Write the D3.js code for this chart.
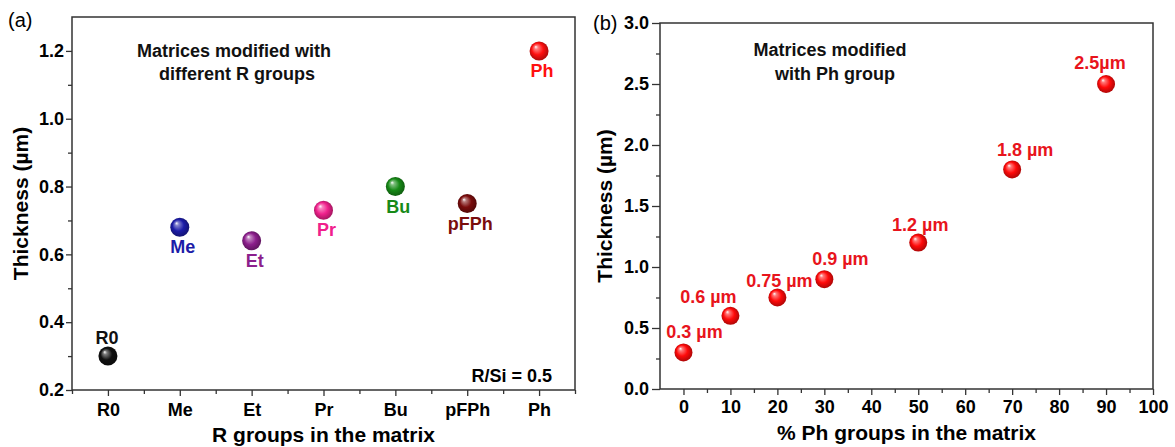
<!DOCTYPE html>
<html>
<head>
<meta charset="utf-8">
<script src="https://cdn.jsdelivr.net/npm/d3@7"></script>
<style>
  body { margin: 0; background: #fff; }
  svg text { font-family: "Liberation Sans", Arial, sans-serif; }
</style>
</head>
<body>
<svg id="chart" width="1175" height="447"></svg>
<script>
// panel (a): thickness by R group
const groups = ['R0', 'Me', 'Et', 'Pr', 'Bu', 'pFPh', 'Ph'];
const groupThickness = [0.30, 0.68, 0.64, 0.73, 0.80, 0.75, 1.20];
const groupColors = ['#111111', '#1c1ca8', '#8c1f8c', '#f0208c', '#178a17', '#7a0c0c', '#ff1010'];
const groupLabelAbove = [true, false, false, false, false, false, false];

// panel (b): thickness vs % Ph
const phPercent = [0, 10, 20, 30, 50, 70, 90];
const phThickness = [0.3, 0.6, 0.75, 0.9, 1.2, 1.8, 2.5];
const phLabels = ['0.3 \u00b5m', '0.6 \u00b5m', '0.75 \u00b5m', '0.9 \u00b5m', '1.2 \u00b5m', '1.8 \u00b5m', '2.5\u00b5m'];

const yTicksA = [0.2, 0.4, 0.6, 0.8, 1.0, 1.2];
const yTicksB = [0, 0.5, 1.0, 1.5, 2.0, 2.5, 3.0];
const xTicksB = [0, 10, 20, 30, 40, 50, 60, 70, 80, 90, 100];

const svg = d3.select('#chart');
const axisColor = '#333';
const labelRed = '#e8141c';

// sphere gradients
const defs = svg.append('defs');
function sphereGrad(id, color) {
  const c = d3.color(color);
  const g = defs.append('radialGradient').attr('id', id)
    .attr('cx', '50%').attr('cy', '50%').attr('r', '55%')
    .attr('fx', '32%').attr('fy', '28%');
  g.append('stop').attr('offset', '0%').attr('stop-color', '#ffffff');
  g.append('stop').attr('offset', '18%').attr('stop-color', d3.interpolateRgb(color, '#fff')(0.45));
  g.append('stop').attr('offset', '55%').attr('stop-color', c.formatHex());
  g.append('stop').attr('offset', '100%').attr('stop-color', c.darker(1.3).formatHex());
  return `url(#${id})`;
}
const groupFills = groupColors.map((c, i) => sphereGrad('g' + i, c));
const redFill = sphereGrad('red', '#ff0a0a');

function frame(g, x0, y0, x1, y1) {
  g.append('rect').attr('x', x0).attr('y', y0)
    .attr('width', x1 - x0).attr('height', y1 - y0)
    .attr('fill', 'none').attr('stroke', axisColor).attr('stroke-width', 1.5);
}

function styleAxis(sel, size) {
  sel.select('.domain').remove();
  sel.selectAll('line').attr('stroke', axisColor).attr('stroke-width', 1.3);
  sel.selectAll('text').attr('font-size', size).attr('font-weight', 'bold')
    .attr('fill', '#000').attr('font-family', '"Liberation Sans", Arial, sans-serif');
}

// ---------- panel (a) ----------
const A = { l: 72, r: 575, t: 17, b: 390 };
const xA = d3.scaleLinear().domain([0.5, 7.5]).range([A.l, A.r]);
const yA = d3.scaleLinear().domain([0.2, 1.3]).range([A.b, A.t]);
const gA = svg.append('g');

gA.append('g').attr('transform', `translate(0,${A.b})`)
  .call(d3.axisBottom(xA).tickValues(d3.range(0.5, 7.6, 1)).tickSize(4).tickFormat(''))
  .call(s => styleAxis(s, 18));
gA.append('g').attr('transform', `translate(0,${A.b})`)
  .call(d3.axisBottom(xA).tickValues(d3.range(1, 8)).tickSize(6).tickPadding(7)
    .tickFormat(d => groups[d - 1]))
  .call(s => styleAxis(s, 18));
gA.append('g').attr('transform', `translate(${A.l},0)`)
  .call(d3.axisLeft(yA).tickValues(d3.range(0.3, 1.25, 0.2)).tickSize(4).tickFormat(''))
  .call(s => styleAxis(s, 18));
gA.append('g').attr('transform', `translate(${A.l},0)`)
  .call(d3.axisLeft(yA).tickValues(yTicksA).tickSize(6).tickPadding(2).tickFormat(d3.format('.1f')))
  .call(s => styleAxis(s, 18));
frame(gA, A.l, A.t, A.r, A.b);

gA.selectAll('circle.pt').data(groups).enter().append('circle')
  .attr('class', 'pt')
  .attr('cx', (d, i) => xA(i + 1))
  .attr('cy', (d, i) => yA(groupThickness[i]))
  .attr('r', 9.5)
  .attr('fill', (d, i) => groupFills[i]);

gA.selectAll('text.lab').data(groups).enter().append('text')
  .attr('class', 'lab')
  .attr('x', (d, i) => xA(i + 1) + (groupLabelAbove[i] ? -1 : 3))
  .attr('y', (d, i) => yA(groupThickness[i]) + (groupLabelAbove[i] ? -12 : 26))
  .attr('text-anchor', 'middle')
  .attr('font-size', 18).attr('font-weight', 'bold')
  .attr('fill', (d, i) => groupColors[i])
  .text(d => d);

const noteA = gA.append('text').attr('text-anchor', 'middle')
  .attr('font-size', 18).attr('font-weight', 'bold').attr('fill', '#111');
noteA.append('tspan').attr('x', 234).attr('y', 57).text('Matrices modified with');
noteA.append('tspan').attr('x', 237).attr('y', 80).text('different R groups');

gA.append('text').attr('x', 552).attr('y', 382).attr('text-anchor', 'end')
  .attr('font-size', 18).attr('font-weight', 'bold').text('R/Si = 0.5');

gA.append('text').attr('x', (A.l + A.r) / 2).attr('y', 442).attr('text-anchor', 'middle')
  .attr('font-size', 21).attr('font-weight', 'bold').text('R groups in the matrix');
gA.append('text').attr('transform', `translate(28,${(A.t + A.b) / 2}) rotate(-90)`)
  .attr('text-anchor', 'middle')
  .attr('font-size', 21).attr('font-weight', 'bold').text('Thickness (\u00b5m)');
gA.append('text').attr('x', 8).attr('y', 27).attr('font-size', 20).text('(a)');

// ---------- panel (b) ----------
const B = { l: 660, r: 1153, t: 23, b: 389 };
const xB = d3.scaleLinear().domain([-5, 100]).range([B.l, B.r]);
const yB = d3.scaleLinear().domain([0, 3]).range([B.b, B.t]);
const gB = svg.append('g');

gB.append('g').attr('transform', `translate(0,${B.b})`)
  .call(d3.axisBottom(xB).tickValues(d3.range(5, 100, 10)).tickSize(4).tickFormat(''))
  .call(s => styleAxis(s, 18));
gB.append('g').attr('transform', `translate(0,${B.b})`)
  .call(d3.axisBottom(xB).tickValues(xTicksB).tickSize(6).tickPadding(5))
  .call(s => styleAxis(s, 18));
gB.append('g').attr('transform', `translate(${B.l},0)`)
  .call(d3.axisLeft(yB).tickValues(d3.range(0.25, 3, 0.5)).tickSize(4).tickFormat(''))
  .call(s => styleAxis(s, 18));
gB.append('g').attr('transform', `translate(${B.l},0)`)
  .call(d3.axisLeft(yB).tickValues(yTicksB).tickSize(8).tickPadding(3).tickFormat(d3.format('.1f')))
  .call(s => styleAxis(s, 18));
frame(gB, B.l, B.t, B.r, B.b);

gB.selectAll('circle.pt').data(phPercent).enter().append('circle')
  .attr('class', 'pt')
  .attr('cx', d => xB(d))
  .attr('cy', (d, i) => yB(phThickness[i]))
  .attr('r', 9)
  .attr('fill', redFill);

// label nudges relative to each sphere
const nudgeB = [[11, -14], [-22, -13], [2, -11], [16, -14], [2, -12], [13, -13], [-6, -15]];
gB.selectAll('text.lab').data(phPercent).enter().append('text')
  .attr('class', 'lab')
  .attr('x', (d, i) => xB(d) + nudgeB[i][0])
  .attr('y', (d, i) => yB(phThickness[i]) + nudgeB[i][1])
  .attr('text-anchor', 'middle')
  .attr('font-size', 18).attr('font-weight', 'bold')
  .attr('fill', labelRed)
  .text((d, i) => phLabels[i]);

const noteB = gB.append('text').attr('text-anchor', 'middle')
  .attr('font-size', 18).attr('font-weight', 'bold').attr('fill', '#111');
noteB.append('tspan').attr('x', 830).attr('y', 56).text('Matrices modified');
noteB.append('tspan').attr('x', 835).attr('y', 80).text('with Ph group');

gB.append('text').attr('x', (B.l + B.r) / 2).attr('y', 440).attr('text-anchor', 'middle')
  .attr('font-size', 21).attr('font-weight', 'bold').text('% Ph groups in the matrix');
gB.append('text').attr('transform', `translate(612,${(B.t + B.b) / 2}) rotate(-90)`)
  .attr('text-anchor', 'middle')
  .attr('font-size', 21).attr('font-weight', 'bold').text('Thickness (\u00b5m)');
gB.append('text').attr('x', 593).attr('y', 30).attr('font-size', 20).text('(b)');
</script>
</body>
</html>
